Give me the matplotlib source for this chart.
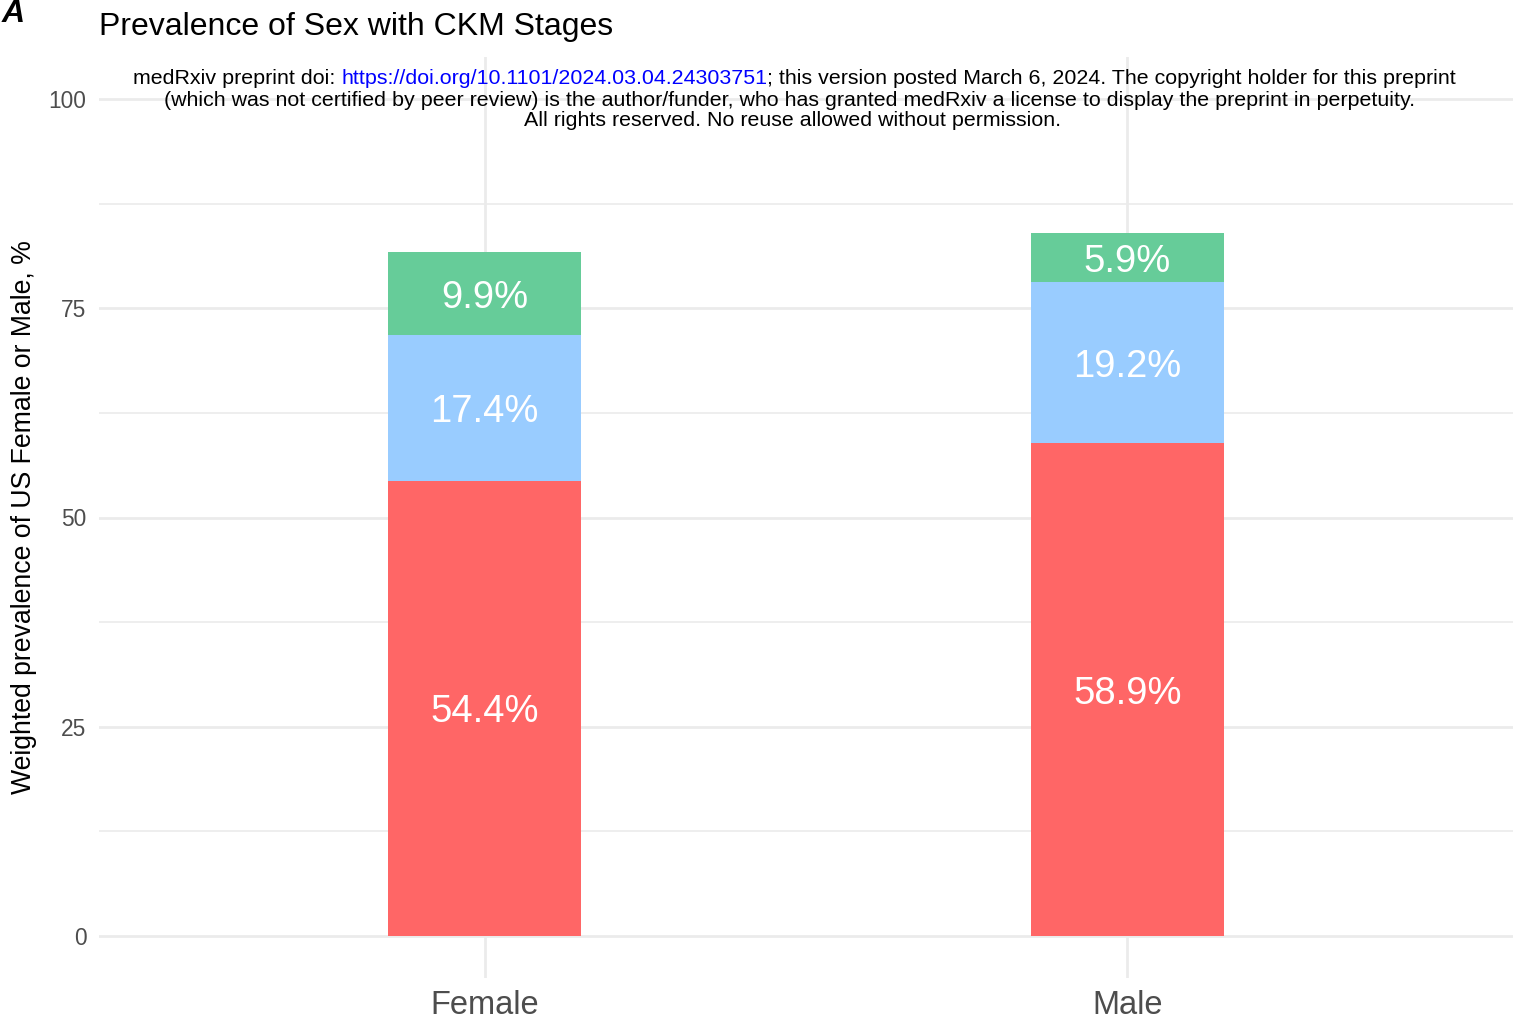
import numpy as np
import matplotlib.pyplot as plt
from matplotlib.ticker import MultipleLocator

plt.rcParams['font.family'] = ['Liberation Sans', 'DejaVu Sans']

# data
sexes = ['Female', 'Male']
stage_low = [54.4, 58.9]
stage_mid = [17.4, 19.2]
stage_high = [9.9, 5.9]
stage_colors = ['#FF6666', '#99CCFF', '#66CC99']

fig = plt.figure(figsize=(15.13, 10.25), dpi=100)
ax = fig.add_axes([99 / 1513, 47 / 1025, 1 - 99 / 1513, (978 - 57) / 1025])

x = np.arange(1, len(sexes) + 1)
bottom = np.zeros(len(sexes))
for vals, col in zip([stage_low, stage_mid, stage_high], stage_colors):
    vals = np.array(vals)
    ax.bar(x, vals, width=0.3, bottom=bottom, color=col, zorder=2)
    for xi, b, v in zip(x, bottom, vals):
        ax.text(xi, b + v / 2, f'{v:.1f}%', ha='center', va='center_baseline',
                color='white', fontsize=27.5, zorder=3)
    bottom += vals

ax.set_xlim(0.4, 2.6)
ax.set_ylim(-5, 105)
ax.set_xticks(x)
ax.set_xticklabels(sexes, fontsize=23.5, color='#4D4D4D')
ax.yaxis.set_minor_locator(MultipleLocator(12.5))
ax.set_yticks([0, 25, 50, 75, 100])
ax.tick_params(axis='y', labelsize=16.4, labelcolor='#4D4D4D', length=0, which='both', pad=9)
ax.tick_params(axis='x', length=0, pad=9)
ax.grid(True, which='major', color='#EBEBEB', linewidth=2, zorder=0)
ax.grid(True, which='minor', axis='y', color='#EBEBEB', linewidth=1.2, zorder=0)
ax.set_axisbelow(True)
for s in ax.spines.values():
    s.set_visible(False)
ax.set_ylabel('Weighted prevalence of US Female or Male, %', fontsize=19.2)
ax.yaxis.set_label_coords(-0.044, 0.5)

fig.text(2 / 1513, 1 - 14 / 1025, 'A', fontsize=23, fontweight='bold', style='italic',
         ha='left', va='center')
fig.text(99 / 1513, 1 - 27 / 1025, 'Prevalence of Sex with CKM Stages', fontsize=23,
         ha='left', va='center')

# preprint notice
fs = 15.4
t1 = fig.text(133 / 1513, 1 - 78 / 1025, 'medRxiv preprint doi: ', fontsize=fs,
              ha='left', va='center')
t2 = ax.annotate('https://doi.org/10.1101/2024.03.04.24303751', xy=(1, 0),
                 xycoords=t1, va='bottom', ha='left', fontsize=fs, color='blue',
                 annotation_clip=False)
ax.annotate('; this version posted March 6, 2024. The copyright holder for this preprint',
            xy=(1, 0), xycoords=t2, va='bottom', ha='left', fontsize=fs,
            annotation_clip=False)
fig.text(790 / 1513, 1 - 100 / 1025,
         '(which was not certified by peer review) is the author/funder, who has granted medRxiv a license to display the preprint in perpetuity.',
         fontsize=fs, ha='center', va='center')
fig.text(793 / 1513, 1 - 121 / 1025, 'All rights reserved. No reuse allowed without permission.',
         fontsize=fs, ha='center', va='center')

fig.savefig('out.png', dpi=100)
